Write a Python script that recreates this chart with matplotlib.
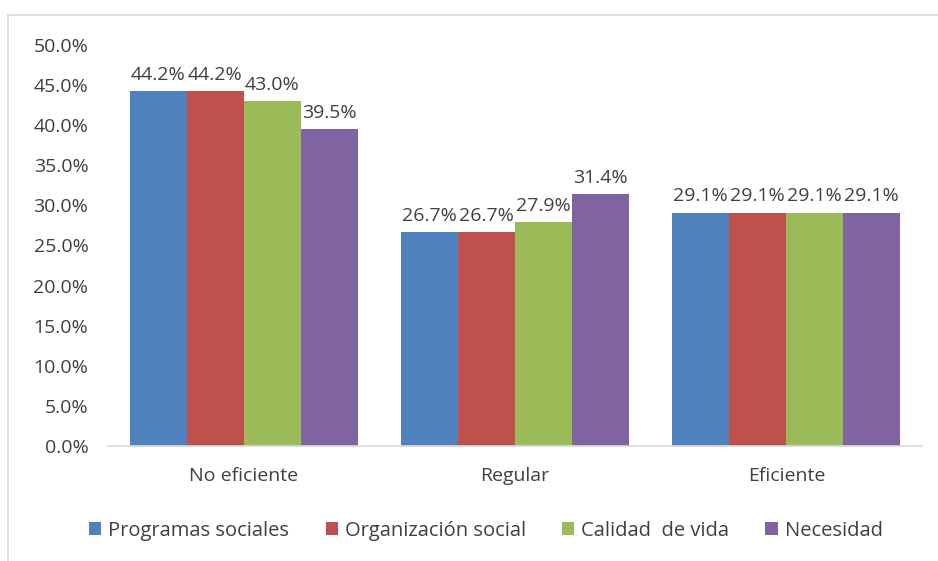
import matplotlib.pyplot as plt
import numpy as np
from matplotlib.lines import Line2D

plt.rcParams['font.family'] = ['Open Sans', 'DejaVu Sans']

categories = ['No eficiente', 'Regular', 'Eficiente']
series = ['Programas sociales', 'Organización social', 'Calidad  de vida', 'Necesidad']
programas = [44.2, 26.7, 29.1]
organizacion = [44.2, 26.7, 29.1]
calidad = [43.0, 27.9, 29.1]
necesidad = [39.5, 31.4, 29.1]
colors = ['#4f81bd', '#c0504d', '#9bbb59', '#8064a2']

fig = plt.figure(figsize=(9.38, 5.61), dpi=100)
ax = fig.add_axes([0.115, 0.205, 0.868, 0.715])

x = np.arange(len(categories))
w = 0.21
txt = '#404040'
for i, (vals, c, name) in enumerate(zip([programas, organizacion, calidad, necesidad], colors, series)):
    pos = x + (i - 1.5) * w
    bars = ax.bar(pos, vals, w, color=c, label=name)
    for p, v in zip(pos, vals):
        ax.text(p, v + 0.9, f'{v:.1f}%', ha='center', va='bottom', fontsize=14, color=txt)

ax.set_xlim(-0.5, 2.5)
ax.set_ylim(0, 50)
ax.set_yticks(np.arange(0, 51, 5))
ax.set_yticklabels([f'{t:.1f}%' for t in np.arange(0, 51, 5)])
ax.set_xticks(x)
ax.set_xticklabels(categories)
ax.tick_params(axis='both', length=0, labelsize=14, labelcolor=txt)
ax.tick_params(axis='x', pad=15)
ax.tick_params(axis='y', pad=14)
for s in ['top', 'right', 'left']:
    ax.spines[s].set_visible(False)
ax.spines['bottom'].set_color('#d9d9d9')
ax.spines['bottom'].set_linewidth(1.2)

ax.legend(loc='center', bbox_to_anchor=(0.518, 0.054), bbox_transform=fig.transFigure,
          ncol=4, frameon=False, fontsize=14.5, labelcolor=txt,
          handlelength=0.6, handleheight=0.6, handletextpad=0.35, columnspacing=1.8)

# chart frame
fig.add_artist(Line2D([0.0085, 1.0], [0.973, 0.973], transform=fig.transFigure, color='#d9d9d9', lw=1.2))
fig.add_artist(Line2D([0.0085, 0.0085], [0.0, 0.973], transform=fig.transFigure, color='#d9d9d9', lw=1.2))

fig.savefig('out.png', dpi=100)
